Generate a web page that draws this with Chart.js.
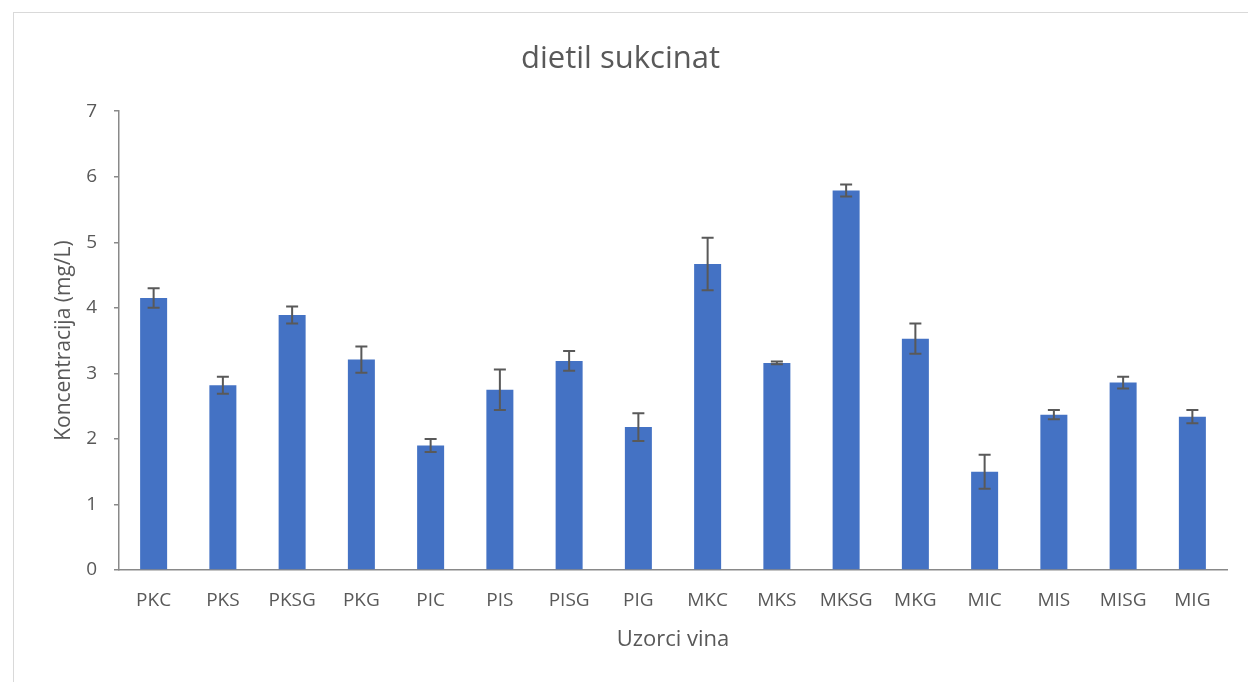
<!DOCTYPE html>
<html>
<head>
<meta charset="utf-8">
<script src="https://cdn.jsdelivr.net/npm/chart.js@4.4.1/dist/chart.umd.min.js"></script>
<style>
  html, body { margin: 0; padding: 0; background: #ffffff; }
  #frame { position: absolute; left: 13px; top: 12px; width: 1240px; height: 700px; border: 1px solid #d9d9d9; box-sizing: border-box; }
  #wrap { position: absolute; left: 0; top: 0; width: 1248px; height: 682px; }
</style>
</head>
<body>
<div id="frame"></div>
<div id="wrap"><canvas id="c" width="1248" height="682"></canvas></div>
<script>
const categories = ['PKC','PKS','PKSG','PKG','PIC','PIS','PISG','PIG','MKC','MKS','MKSG','MKG','MIC','MIS','MISG','MIG'];
const values = [4.15, 2.82, 3.89, 3.21, 1.90, 2.75, 3.19, 2.18, 4.67, 3.16, 5.79, 3.53, 1.50, 2.37, 2.86, 2.34];
const errors = [0.15, 0.13, 0.13, 0.20, 0.10, 0.31, 0.15, 0.21, 0.40, 0.02, 0.09, 0.23, 0.26, 0.07, 0.09, 0.10];
const yTicks = [0, 1, 2, 3, 4, 5, 6, 7];

const errorBarPlugin = {
  id: 'errorBars',
  afterDatasetsDraw(chart) {
    const ctx = chart.ctx;
    const meta = chart.getDatasetMeta(0);
    const y = chart.scales.y;
    ctx.save();
    ctx.strokeStyle = '#595959';
    ctx.lineWidth = 2;
    meta.data.forEach((bar, i) => {
      const x = bar.x;
      const top = y.getPixelForValue(values[i] + errors[i]);
      const bot = y.getPixelForValue(values[i] - errors[i]);
      const cap = 6;
      ctx.beginPath();
      ctx.moveTo(x, top); ctx.lineTo(x, bot);
      ctx.moveTo(x - cap, top); ctx.lineTo(x + cap, top);
      ctx.moveTo(x - cap, bot); ctx.lineTo(x + cap, bot);
      ctx.stroke();
    });
    ctx.restore();
  }
};

const fontFam = "'Open Sans', 'Liberation Sans', sans-serif";

new Chart(document.getElementById('c'), {
  type: 'bar',
  data: {
    labels: categories,
    datasets: [{
      data: values,
      backgroundColor: '#4472C4',
      barPercentage: 0.39,
      categoryPercentage: 1.0
    }]
  },
  options: {
    responsive: false,
    animation: false,
    events: [],
    layout: { padding: { top: 12, left: 14, right: 21, bottom: 0 } },
    plugins: {
      legend: { display: false },
      tooltip: { enabled: false },
      title: {
        display: true,
        text: 'dietil sukcinat',
        color: '#595959',
        font: { family: fontFam, size: 31, weight: 'normal' },
        padding: { top: 29, bottom: 33 }
      }
    },
    scales: {
      x: {
        grid: { display: false, drawTicks: false },
        border: { display: true, color: '#898989', width: 1.5 },
        ticks: { color: '#595959', font: { family: fontFam, size: 19 }, padding: 19, maxRotation: 0, autoSkip: false },
        title: { display: true, text: 'Uzorci vina', color: '#595959', font: { family: fontFam, size: 22 }, padding: { top: 0, bottom: 29 } },
        afterFit(s) { s.height = 112; }
      },
      y: {
        min: 0, max: 7,
        afterBuildTicks(s) { s.ticks = yTicks.map(v => ({ value: v })); },
        grid: { display: true, drawOnChartArea: false, drawTicks: true, tickLength: 5, color: '#898989', lineWidth: 1.5 },
        border: { display: true, color: '#898989', width: 1.5 },
        ticks: { color: '#595959', font: { family: fontFam, size: 19 }, padding: 17 },
        title: { display: true, text: 'Koncentracija (mg/L)', color: '#595959', font: { family: fontFam, size: 21 }, padding: { top: 37, bottom: 0 } },
        afterFit(s) { s.width = 105; }
      }
    }
  },
  plugins: [errorBarPlugin]
});
</script>
</body>
</html>
